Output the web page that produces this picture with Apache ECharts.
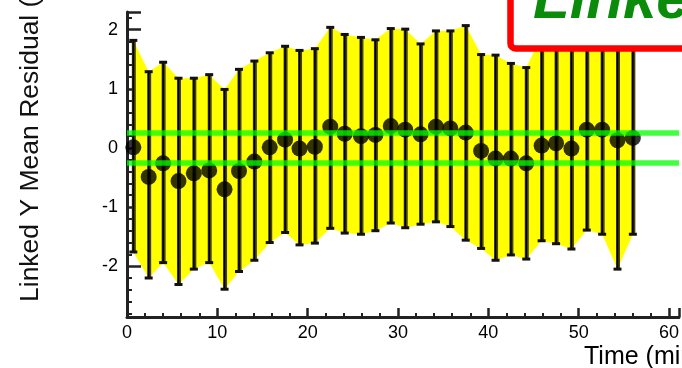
<!DOCTYPE html>
<html>
<head>
<meta charset="utf-8">
<script src="https://cdn.jsdelivr.net/npm/echarts@6/dist/echarts.min.js"></script>
<style>
  html, body { margin: 0; padding: 0; background: #ffffff; }
  #chart { width: 682px; height: 368px; }
</style>
</head>
<body>
<div id="chart"></div>
<script>
// Sample times (min)
const timeMin = [0.7, 2.4, 4.0, 5.7, 7.4, 9.1, 10.8, 12.4, 14.1, 15.8, 17.5, 19.1,
  20.8, 22.5, 24.1, 25.9, 27.5, 29.2, 30.8, 32.5, 34.2, 35.8, 37.5, 39.2,
  40.8, 42.5, 44.2, 45.9, 47.5, 49.2, 50.9, 52.6, 54.3, 56.0];

// Mean residual at each time
const meanResidual = [0.01, -0.49, -0.26, -0.56, -0.43, -0.38, -0.70, -0.39, -0.23, 0.01, 0.14, -0.01,
  0.02, 0.36, 0.24, 0.20, 0.22, 0.37, 0.31, 0.23, 0.36, 0.33, 0.26, -0.05,
  -0.18, -0.18, -0.26, 0.04, 0.08, -0.01, 0.31, 0.31, 0.13, 0.17];

// Upper and lower ends of the spread at each time
const upperBound = [1.82, 1.29, 1.45, 1.18, 1.18, 1.24, 0.99, 1.33, 1.47, 1.61, 1.72, 1.65,
  1.68, 2.04, 1.92, 1.87, 1.83, 2.02, 2.01, 1.76, 1.98, 1.98, 2.07, 1.58,
  1.57, 1.43, 1.36, 1.90, 1.95, 1.95, 1.90, 1.95, 1.90, 1.90];
const lowerBound = [-1.76, -2.20, -1.94, -2.31, -2.05, -1.94, -2.39, -2.09, -1.90, -1.60, -1.43, -1.64,
  -1.61, -1.36, -1.44, -1.46, -1.40, -1.27, -1.35, -1.29, -1.25, -1.33, -1.56, -1.70,
  -1.90, -1.81, -1.88, -1.57, -1.62, -1.71, -1.39, -1.46, -2.05, -1.46];

// Tolerance lines
const toleranceLines = [0.25, -0.25];

const FONT = '"Liberation Sans", Arial, sans-serif';
const chart = echarts.init(document.getElementById('chart'), null, { renderer: 'canvas' });

chart.setOption({
  animation: false,
  backgroundColor: '#ffffff',
  grid: { left: 127, right: 0, top: 12, bottom: 51, containLabel: false },
  xAxis: {
    type: 'value', min: 0, max: 61.1, interval: 10,
    axisLine: { show: true, onZero: false, lineStyle: { color: '#222', width: 3 } },
    axisTick: { show: true, inside: true, length: 9, lineStyle: { color: '#222', width: 2.5 } },
    minorTick: { show: true, splitNumber: 5, length: 4, lineStyle: { color: '#222', width: 2 } },
    axisLabel: { showMaxLabel: false, margin: 7, color: '#000', fontSize: 18, fontFamily: FONT },
    splitLine: { show: false }
  },
  yAxis: {
    type: 'value', min: -2.86, max: 2.3, splitNumber: 5,
    axisLine: { show: true, onZero: false, lineStyle: { color: '#222', width: 3 } },
    axisTick: { show: true, inside: true, length: 14, lineStyle: { color: '#222', width: 2.5 } },
    minorTick: { show: true, splitNumber: 5, length: 5, lineStyle: { color: '#222', width: 2 } },
    axisLabel: { showMinLabel: false, showMaxLabel: false, margin: 9, color: '#000', fontSize: 18, fontFamily: FONT },
    splitLine: { show: false }
  },
  series: [
    {
      // yellow spread band
      type: 'custom', z: 1, silent: true,
      data: [[timeMin[0], upperBound[0]]],
      renderItem: function (params, api) {
        const pts = [];
        for (let i = 0; i < timeMin.length; i++) pts.push(api.coord([timeMin[i], upperBound[i]]));
        for (let i = timeMin.length - 1; i >= 0; i--) pts.push(api.coord([timeMin[i], lowerBound[i]]));
        return { type: 'polygon', shape: { points: pts }, style: { fill: '#ffff00' } };
      }
    },
    {
      // vertical spread bars with caps
      type: 'custom', z: 3, silent: true,
      data: timeMin.map((t, i) => [t, lowerBound[i], upperBound[i]]),
      encode: { x: 0, y: [1, 2] },
      renderItem: function (params, api) {
        const x = api.value(0);
        const lo = api.coord([x, api.value(1)]);
        const hi = api.coord([x, api.value(2)]);
        const cw = 4;
        return {
          type: 'group',
          children: [
            { type: 'line', shape: { x1: lo[0] + 0.5, y1: lo[1], x2: hi[0] + 0.5, y2: hi[1] },
              style: { stroke: '#46420a', lineWidth: 4 } },
            { type: 'line', shape: { x1: lo[0], y1: lo[1], x2: hi[0], y2: hi[1] },
              style: { stroke: '#000000', lineWidth: 1.6 } },
            { type: 'line', shape: { x1: hi[0] - cw, y1: hi[1], x2: hi[0] + cw, y2: hi[1] },
              style: { stroke: '#111111', lineWidth: 3 } },
            { type: 'line', shape: { x1: lo[0] - cw, y1: lo[1], x2: lo[0] + cw, y2: lo[1] },
              style: { stroke: '#111111', lineWidth: 3 } }
          ]
        };
      }
    },
    {
      type: 'scatter', z: 4, silent: true,
      symbol: 'circle', symbolSize: 16,
      itemStyle: { color: '#000000' },
      data: timeMin.map((t, i) => [t, meanResidual[i]])
    },
    {
      type: 'line', z: 6, silent: true, data: [],
      markLine: {
        silent: true, symbol: 'none', label: { show: false },
        lineStyle: { color: 'rgba(0,255,0,0.75)', width: 5.5, type: 'solid' },
        data: toleranceLines.map(v => ({ yAxis: v }))
      }
    }
  ],
  graphic: [
    {
      type: 'text', z: 50, x: 31, y: 302, rotation: Math.PI / 2,
      style: { text: 'Linked Y Mean Residual (mm)', font: '26.5px ' + FONT, fill: '#111',
        textAlign: 'left', textVerticalAlign: 'middle' }
    },
    {
      type: 'text', z: 50, x: 584, y: 345,
      style: { text: 'Time (min)', font: '25px ' + FONT, fill: '#000',
        textAlign: 'left', textVerticalAlign: 'top' }
    },
    {
      type: 'rect', z: 100,
      shape: { x: 510.5, y: -30, width: 220, height: 78.5, r: 5 },
      style: { fill: '#ffffff', stroke: '#ff0000', lineWidth: 6.5 }
    },
    {
      type: 'text', z: 101, x: 533, y: 31,
      style: { text: 'Linked Y', font: 'italic bold 60px ' + FONT, fill: '#0a8c0a',
        textAlign: 'left', textVerticalAlign: 'bottom' }
    }
  ]
});
</script>
</body>
</html>
